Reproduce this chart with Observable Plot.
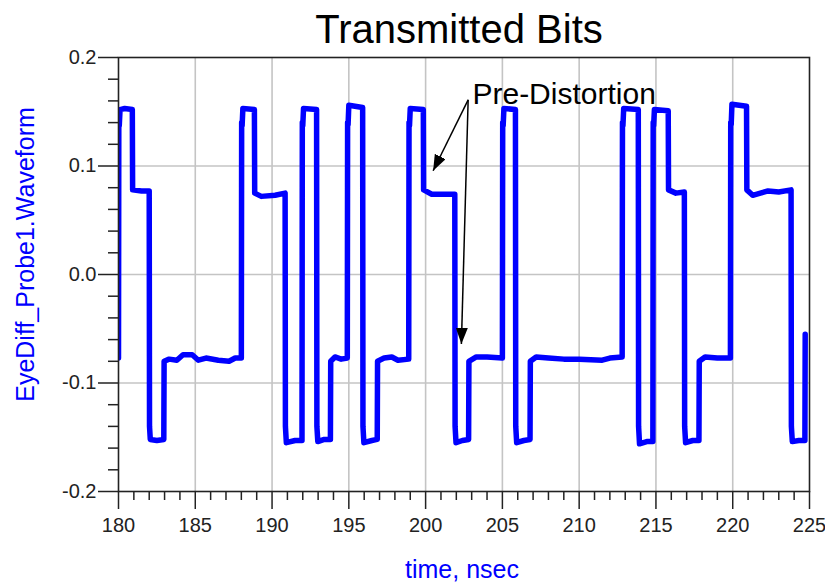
<!DOCTYPE html>
<html>
<head>
<meta charset="utf-8">
<script src="https://cdn.jsdelivr.net/npm/d3@7"></script>
<script src="https://cdn.jsdelivr.net/npm/@observablehq/plot@0.6"></script>
<style>
  html, body { margin: 0; padding: 0; background: #fff; }
  #chart { width: 825px; height: 582px; }
</style>
</head>
<body>
<div id="chart"></div>
<script>
// ---- data ----
const times = [
  180.0, 180.02, 180.05, 180.1, 180.4, 180.9,
  180.92, 181.5, 182.0,
  182.02, 182.07, 182.5, 182.95,
  182.97, 183.3, 183.8, 184.2, 184.8, 185.2, 185.7, 186.5, 187.2, 187.6, 188.0,
  188.02, 188.05, 188.1, 188.85,
  188.87, 189.3, 190.2, 190.85,
  190.87, 190.93, 191.5, 191.95,
  191.97, 192.0, 192.05, 192.9,
  192.92, 192.98, 193.4, 193.8,
  193.82, 194.1, 194.5, 194.9,
  194.92, 194.95, 195.0, 195.9,
  195.92, 195.98, 196.5, 196.85,
  196.87, 197.3, 197.8, 198.2, 198.9,
  198.92, 198.95, 199.0, 199.85,
  199.87, 200.4, 201.2, 201.9,
  201.92, 201.98, 202.4, 202.8,
  202.82, 203.3, 204.0, 205.0,
  205.02, 205.05, 205.1, 205.85,
  205.87, 205.93, 206.4, 206.8,
  206.82, 207.2, 208.0, 209.0, 210.0, 211.5, 212.0, 212.8,
  212.82, 212.85, 212.9, 213.85,
  213.87, 213.93, 214.4, 214.8,
  214.82, 214.85, 214.9, 215.8,
  215.82, 216.3, 216.85,
  216.87, 216.93, 217.4, 217.8,
  217.82, 218.2, 219.0, 219.85,
  219.87, 219.9, 219.95, 220.9,
  220.92, 221.3, 221.8, 222.3, 223.0, 223.8,
  223.82, 223.88, 224.3, 224.7,
  224.72
];
const values = [
  -0.077, 0.14, 0.137, 0.152, 0.153, 0.152,
  0.078, 0.077, 0.077,
  -0.14, -0.152, -0.153, -0.152,
  -0.080, -0.078, -0.079, -0.074, -0.074, -0.079, -0.077, -0.079, -0.080, -0.077, -0.077,
  0.14, 0.137, 0.153, 0.152,
  0.075, 0.072, 0.073, 0.075,
  -0.14, -0.155, -0.153, -0.153,
  0.14, 0.137, 0.153, 0.152,
  -0.14, -0.154, -0.152, -0.152,
  -0.080, -0.076, -0.078, -0.077,
  0.14, 0.138, 0.156, 0.154,
  -0.14, -0.155, -0.153, -0.152,
  -0.080, -0.077, -0.076, -0.079, -0.078,
  0.14, 0.137, 0.153, 0.152,
  0.078, 0.074, 0.074, 0.074,
  -0.14, -0.155, -0.153, -0.152,
  -0.080, -0.076, -0.076, -0.077,
  0.14, 0.137, 0.153, 0.152,
  -0.14, -0.155, -0.153, -0.152,
  -0.080, -0.076, -0.077, -0.078, -0.078, -0.079, -0.077, -0.076,
  0.14, 0.137, 0.153, 0.152,
  -0.14, -0.156, -0.154, -0.154,
  0.14, 0.137, 0.152, 0.151,
  0.078, 0.075, 0.076,
  -0.14, -0.155, -0.153, -0.153,
  -0.080, -0.076, -0.077, -0.077,
  0.14, 0.138, 0.157, 0.155,
  0.078, 0.073, 0.075, 0.077, 0.076, 0.078,
  -0.14, -0.154, -0.153, -0.153,
  -0.055
];
const xMajor = [180, 185, 190, 195, 200, 205, 210, 215, 220, 225];
const xMinor = [181,182,183,184,186,187,188,189,191,192,193,194,196,197,198,199,
                201,202,203,204,206,207,208,209,211,212,213,214,216,217,218,219,
                221,222,223,224];
const yMajor = [-0.2, -0.1, 0.0, 0.1, 0.2];
const yMinor = [-0.18,-0.16,-0.14,-0.12,-0.08,-0.06,-0.04,-0.02,
                0.02,0.04,0.06,0.08,0.12,0.14,0.16,0.18];
const xGrid = [185, 190, 195, 200, 205, 210, 215, 220];
const yGrid = [-0.1, 0.0, 0.1];

const titleText = "Transmitted Bits";
const xLabel = "time, nsec";
const yLabel = "EyeDiff_Probe1.Waveform";

// annotation: label anchor and arrows (start -> tip), in data units
const noteLabel = [{t: 203.05, v: 0.166, text: "Pre-Distortion"}];
const noteArrows = [
  {t1: 202.77, v1: 0.161, t2: 200.49, v2: 0.0956},
  {t1: 202.77, v1: 0.161, t2: 202.33, v2: -0.064}
];

const data = times.map((t, i) => ({t, v: values[i]}));

function filledArrow(color) {
  return d3.create("svg:marker")
    .attr("viewBox", "-16 -6 16 12")
    .attr("markerWidth", 16)
    .attr("markerHeight", 12)
    .attr("markerUnits", "userSpaceOnUse")
    .attr("refX", 0)
    .attr("refY", 0)
    .attr("orient", "auto")
    .attr("fill", color)
    .attr("stroke", "none")
    .call(m => m.append("path").attr("d", "M-16,-6L0,0L-16,6Z"))
    .node();
}

const font = "'Liberation Sans', Arial, sans-serif";
const ink = "#222";

const chart = Plot.plot({
  width: 825,
  height: 582,
  marginLeft: 118,
  marginRight: 16,
  marginTop: 57,
  marginBottom: 91,
  style: {fontFamily: font, background: "#fff", overflow: "visible"},
  x: {domain: [180, 225], label: null},
  y: {domain: [-0.2, 0.2], label: null},
  marks: [
    Plot.gridX(xGrid, {stroke: "#c4c4c4", strokeOpacity: 1, strokeWidth: 1.6}),
    Plot.gridY(yGrid, {stroke: "#c4c4c4", strokeOpacity: 1, strokeWidth: 1.6}),
    Plot.line(data, {x: "t", y: "v", stroke: "#0000ff", strokeWidth: 5.5, clip: true}),
    Plot.frame({stroke: ink, strokeWidth: 1.6}),
    Plot.axisX(xMajor, {tickSize: 18, tickPadding: 8, fontSize: 20, color: ink, strokeWidth: 1.5,
      tickFormat: d => String(d), label: null}),
    Plot.axisX(xMinor, {tickSize: 9, color: ink, strokeWidth: 1.5, tickFormat: () => "", label: null}),
    Plot.axisY(yMajor, {tickSize: 20, tickPadding: 2, fontSize: 20, color: ink, strokeWidth: 1.5,
      tickFormat: d => d.toFixed(1), label: null}),
    Plot.axisY(yMinor, {tickSize: 10, color: ink, strokeWidth: 1.5, tickFormat: () => "", label: null}),
    Plot.link(noteArrows, {x1: "t1", y1: "v1", x2: "t2", y2: "v2", stroke: "#000", strokeWidth: 1.5,
      markerEnd: filledArrow}),
    Plot.text(noteLabel, {x: "t", y: "v", text: "text", textAnchor: "start", lineAnchor: "middle",
      fontSize: 30, fill: "#000"}),
    Plot.text([titleText], {text: d => d, frameAnchor: "top", dx: -5, dy: -27, lineAnchor: "middle",
      fontSize: 40, fill: "#000"}),
    Plot.text([xLabel], {text: d => d, frameAnchor: "bottom", dx: -2, dy: 78, lineAnchor: "middle",
      fontSize: 25, fill: "#0000ff"}),
    Plot.text([yLabel], {text: d => d, frameAnchor: "left", rotate: -90, dx: -93, dy: -20,
      textAnchor: "middle", lineAnchor: "middle", fontSize: 25, fill: "#0000ff"})
  ]
});
document.getElementById("chart").appendChild(chart);
</script>
</body>
</html>
